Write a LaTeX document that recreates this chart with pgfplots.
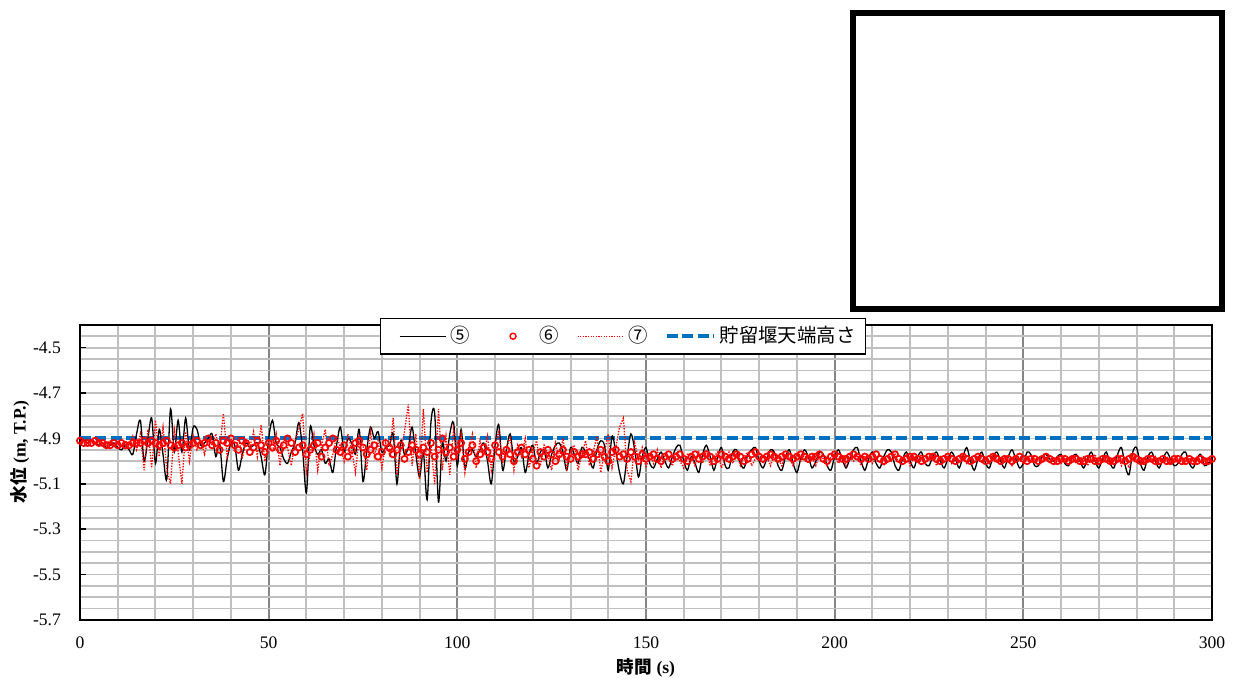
\documentclass[border=0pt]{standalone}
\usepackage{pgfplots}
\pgfplotsset{compat=1.18}
\usepackage{pgfplotstable}
\usepackage{fontspec}
\setmainfont{Liberation Serif}
\newfontfamily\jp{Noto Sans CJK JP}
\definecolor{wlblue}{HTML}{0070C0}
\definecolor{gmaj}{HTML}{858585}
\definecolor{gmin}{HTML}{C0C0C0}

\pgfplotstableread{
t k m d
0 -4.90 -4.91 -4.90
1 -4.91 -4.92 -4.91
2 -4.92 -4.92 -4.92
3 -4.91 -4.92 -4.91
4 -4.92 -4.91 -4.92
5 -4.93 -4.92 -4.91
6 -4.92 -4.92 -4.93
7 -4.94 -4.93 -4.92
8 -4.93 -4.93 -4.91
9 -4.92 -4.92 -4.93
10 -4.94 -4.93 -4.92
11 -4.95 -4.92 -4.94
12 -4.93 -4.93 -4.91
13 -4.95 -4.93 -4.93
14 -4.97 -4.92 -4.89
15 -4.88 -4.92 -4.95
16 -4.82 -4.92 -4.88
17 -5.00 -4.91 -5.04
18 -4.90 -4.92 -4.86
19 -4.81 -4.91 -5.03
20 -5.01 -4.92 -4.82
21 -4.86 -4.93 -4.98
22 -4.97 -4.92 -4.85
23 -5.08 -4.91 -5.04
24 -4.77 -4.93 -5.10
25 -4.96 -4.94 -4.86
26 -4.82 -4.93 -4.96
27 -4.96 -4.92 -5.10
28 -4.81 -4.94 -4.87
29 -4.95 -4.93 -5.00
30 -4.85 -4.92 -4.89
31 -4.86 -4.91 -4.95
32 -4.93 -4.93 -4.91
33 -4.92 -4.92 -4.97
34 -4.90 -4.90 -4.90
35 -4.88 -4.93 -4.93
36 -4.98 -4.92 -4.88
37 -4.92 -4.95 -4.95
38 -5.09 -4.91 -4.79
39 -4.99 -4.92 -4.98
40 -4.92 -4.90 -4.90
41 -4.93 -4.93 -4.96
42 -5.04 -4.95 -4.89
43 -4.97 -4.91 -4.99
44 -4.92 -4.92 -4.91
45 -4.94 -4.96 -4.94
46 -4.93 -4.94 -4.87
47 -4.92 -4.91 -4.98
48 -4.98 -4.93 -4.84
49 -5.06 -4.96 -5.00
50 -4.90 -4.92 -4.92
51 -4.82 -4.94 -4.96
52 -4.92 -4.91 -4.88
53 -4.94 -4.95 -5.02
54 -4.99 -4.93 -4.90
55 -5.01 -4.90 -4.94
56 -4.96 -4.92 -5.02
57 -4.92 -4.96 -4.91
58 -4.83 -4.94 -4.86
59 -4.95 -4.93 -4.79
60 -5.14 -4.97 -5.05
61 -4.85 -4.95 -4.97
62 -4.93 -4.93 -4.88
63 -4.97 -4.92 -5.04
64 -4.95 -4.98 -4.93
65 -5.01 -4.94 -4.86
66 -4.99 -4.92 -5.02
67 -5.05 -4.90 -4.97
68 -4.93 -4.95 -4.89
69 -4.85 -4.96 -4.94
70 -4.96 -4.93 -5.00
71 -4.90 -4.98 -4.88
72 -4.92 -4.95 -4.95
73 -4.97 -4.92 -5.05
74 -4.86 -4.91 -4.89
75 -5.09 -4.94 -4.93
76 -4.95 -4.97 -5.04
77 -4.85 -4.95 -4.87
78 -4.90 -4.93 -4.98
79 -4.87 -4.98 -4.91
80 -4.96 -4.96 -5.03
81 -4.94 -4.92 -4.92
82 -4.93 -4.94 -4.97
83 -4.88 -4.97 -4.81
84 -5.10 -4.95 -5.06
85 -4.91 -4.93 -4.95
86 -4.97 -4.99 -4.87
87 -4.94 -4.96 -4.75
88 -4.85 -4.93 -5.02
89 -4.97 -4.95 -4.88
90 -5.07 -4.97 -5.08
91 -4.96 -4.94 -4.77
92 -5.17 -4.96 -5.05
93 -4.83 -4.92 -4.93
94 -4.79 -4.98 -5.10
95 -5.18 -4.95 -4.77
96 -4.92 -4.90 -5.04
97 -5.00 -4.96 -4.89
98 -4.88 -4.94 -5.06
99 -4.83 -4.98 -4.86
100 -5.02 -4.95 -4.98
101 -4.86 -4.92 -4.88
102 -5.03 -4.99 -5.05
103 -4.96 -4.96 -4.94
104 -4.95 -4.93 -4.88
105 -4.98 -5.00 -5.03
106 -4.95 -4.97 -4.91
107 -4.92 -4.94 -4.97
108 -5.00 -4.96 -4.89
109 -5.10 -4.99 -5.04
110 -4.93 -4.93 -4.92
111 -4.84 -4.96 -4.87
112 -5.04 -4.98 -5.01
113 -4.95 -4.95 -4.95
114 -4.88 -4.97 -4.89
115 -5.00 -5.00 -5.04
116 -4.98 -4.96 -4.93
117 -4.94 -4.94 -4.98
118 -5.05 -4.97 -4.90
119 -4.97 -4.95 -5.03
120 -4.93 -4.99 -4.96
121 -5.01 -5.02 -4.91
122 -4.96 -4.96 -5.02
123 -4.95 -4.98 -4.93
124 -5.03 -4.95 -4.97
125 -4.97 -4.97 -5.04
126 -4.93 -5.00 -4.92
127 -4.92 -4.97 -4.99
128 -4.96 -4.95 -4.90
129 -5.04 -4.98 -5.03
130 -4.94 -4.99 -4.95
131 -4.97 -4.96 -4.93
132 -5.01 -4.98 -5.04
133 -4.94 -4.97 -4.97
134 -4.96 -4.97 -4.91
135 -4.99 -4.96 -5.02
136 -5.03 -4.99 -4.96
137 -4.95 -4.97 -4.89
138 -4.91 -4.95 -5.05
139 -4.93 -4.98 -4.96
140 -5.04 -5.00 -4.88
141 -4.89 -4.96 -5.03
142 -4.96 -4.95 -4.94
143 -5.05 -4.98 -4.85
144 -5.10 -4.97 -4.81
145 -4.98 -4.99 -5.04
146 -4.88 -4.96 -5.09
147 -4.95 -4.98 -4.92
148 -5.07 -5.00 -4.99
149 -4.98 -4.97 -4.94
150 -4.94 -4.99 -5.03
151 -5.01 -4.98 -4.97
152 -5.03 -4.97 -5.01
153 -4.99 -4.99 -4.95
154 -4.96 -5.00 -5.03
155 -5.00 -4.98 -4.97
156 -5.03 -4.97 -4.99
157 -4.98 -4.99 -5.02
158 -4.94 -4.98 -4.96
159 -4.93 -4.97 -5.00
160 -5.00 -4.99 -5.03
161 -5.04 -5.00 -4.97
162 -4.98 -4.98 -4.98
163 -5.01 -4.97 -5.02
164 -5.05 -4.99 -4.96
165 -4.97 -4.98 -5.01
166 -4.93 -4.97 -4.95
167 -4.98 -4.98 -5.02
168 -5.04 -5.00 -4.98
169 -4.98 -4.99 -4.96
170 -4.94 -4.97 -5.03
171 -5.02 -4.98 -4.99
172 -5.03 -4.99 -4.96
173 -4.96 -4.98 -5.01
174 -4.95 -4.97 -4.97
175 -5.01 -4.98 -5.02
176 -5.03 -5.00 -4.98
177 -4.97 -4.99 -4.96
178 -4.95 -4.97 -5.02
179 -4.94 -4.96 -4.99
180 -5.00 -4.98 -4.96
181 -5.03 -4.99 -5.01
182 -4.99 -4.98 -4.98
183 -4.95 -4.97 -5.02
184 -4.96 -4.98 -4.97
185 -5.02 -4.99 -4.99
186 -5.04 -4.98 -5.02
187 -4.98 -4.97 -4.97
188 -4.95 -4.98 -4.99
189 -5.01 -4.99 -5.02
190 -5.05 -4.98 -4.97
191 -4.99 -4.97 -5.00
192 -4.95 -4.98 -4.97
193 -4.98 -4.99 -5.01
194 -5.03 -4.98 -4.98
195 -5.00 -4.98 -5.02
196 -4.96 -4.97 -4.97
197 -4.97 -4.99 -4.99
198 -5.02 -5.00 -5.02
199 -5.04 -4.98 -4.98
200 -4.98 -4.97 -4.97
201 -4.95 -4.98 -5.01
202 -4.99 -4.99 -4.98
203 -5.03 -4.99 -5.02
204 -4.99 -4.98 -4.97
205 -4.95 -4.97 -5.00
206 -4.94 -4.98 -4.98
207 -5.00 -4.99 -5.02
208 -5.04 -4.98 -4.98
209 -4.99 -4.99 -4.97
210 -4.96 -4.98 -5.01
211 -5.01 -4.97 -4.99
212 -5.03 -4.99 -4.97
213 -4.98 -5.00 -5.02
214 -4.95 -4.99 -4.98
215 -4.96 -4.98 -5.00
216 -5.02 -4.97 -4.97
217 -5.04 -4.99 -5.01
218 -4.99 -5.00 -4.99
219 -4.96 -4.99 -4.97
220 -5.00 -4.98 -5.02
221 -5.03 -4.98 -4.98
222 -4.98 -4.99 -5.00
223 -4.96 -5.00 -4.97
224 -5.01 -4.99 -5.01
225 -5.02 -4.98 -4.99
226 -4.98 -4.98 -4.97
227 -4.96 -4.99 -5.02
228 -5.00 -5.00 -4.98
229 -5.03 -4.99 -5.00
230 -4.99 -4.98 -4.98
231 -4.96 -4.99 -5.01
232 -4.99 -5.00 -4.98
233 -5.03 -4.99 -5.00
234 -4.98 -4.98 -4.97
235 -4.94 -4.99 -5.01
236 -5.00 -5.00 -4.99
237 -5.04 -4.99 -5.01
238 -4.99 -4.98 -4.98
239 -4.96 -4.99 -5.00
240 -5.01 -5.00 -4.98
241 -5.03 -4.99 -5.01
242 -4.98 -4.98 -4.97
243 -4.96 -4.99 -5.00
244 -5.00 -5.00 -5.01
245 -5.03 -4.99 -4.98
246 -4.98 -4.99 -5.00
247 -4.95 -5.00 -5.02
248 -4.99 -4.99 -4.98
249 -5.03 -4.98 -4.99
250 -5.01 -4.99 -5.01
251 -4.96 -5.00 -4.98
252 -4.97 -4.99 -5.00
253 -5.02 -4.99 -5.01
254 -5.02 -5.00 -4.98
255 -4.98 -4.99 -5.00
256 -4.97 -4.98 -4.98
257 -4.99 -4.99 -5.01
258 -5.00 -5.00 -4.99
259 -4.98 -5.00 -4.98
260 -4.97 -4.99 -5.01
261 -5.01 -4.99 -4.99
262 -5.02 -5.00 -5.00
263 -4.98 -4.99 -4.98
264 -4.97 -4.99 -5.01
265 -5.00 -5.00 -4.99
266 -5.03 -5.00 -4.98
267 -4.99 -4.99 -5.02
268 -4.96 -4.99 -4.99
269 -5.00 -5.00 -4.97
270 -5.03 -5.00 -5.01
271 -4.99 -4.99 -5.00
272 -4.96 -4.99 -4.98
273 -5.01 -5.00 -5.01
274 -5.03 -5.00 -4.99
275 -4.97 -4.99 -4.97
276 -4.94 -4.99 -5.02
277 -5.02 -5.00 -4.98
278 -5.06 -4.99 -5.03
279 -4.96 -4.98 -4.97
280 -4.94 -4.99 -5.00
281 -5.01 -5.00 -4.98
282 -5.04 -5.00 -5.01
283 -4.98 -4.99 -4.99
284 -4.96 -4.99 -5.00
285 -5.00 -5.00 -4.98
286 -5.03 -5.00 -5.01
287 -4.99 -4.99 -4.99
288 -4.96 -5.00 -4.98
289 -4.99 -5.00 -5.01
290 -5.02 -4.99 -4.99
291 -5.01 -4.99 -5.00
292 -4.97 -5.00 -4.98
293 -4.96 -5.00 -5.01
294 -5.01 -4.99 -4.99
295 -5.03 -5.00 -5.00
296 -4.99 -5.00 -4.98
297 -4.97 -4.99 -5.01
298 -5.02 -5.00 -4.99
299 -5.01 -5.00 -5.00
300 -4.99 -4.99 -4.99
}\wl

\begin{document}
\begin{tikzpicture}
\path[use as bounding box] (-40pt,-32pt) rectangle (579pt,310pt);
\begin{axis}[
  at={(0,0)}, anchor=south west,
  scale only axis,
  width=566pt, height=147.5pt,
  xmin=0, xmax=300, ymin=-5.7, ymax=-4.4,
  xtick={0,50,...,300},
  minor xtick={10,20,30,40,60,70,80,90,110,120,130,140,160,170,180,190,210,220,230,240,260,270,280,290},
  ytick={-5.7,-5.5,-5.3,-5.1,-4.9,-4.7,-4.5},
  minor ytick={-5.65,-5.6,-5.55,-5.45,-5.4,-5.35,-5.25,-5.2,-5.15,-5.05,-5.0,-4.95,-4.85,-4.8,-4.75,-4.65,-4.6,-4.55,-4.45},
  grid=both,
  major x grid style={gmaj, line width=0.9pt},
  minor x grid style={gmin, line width=1pt},
  major y grid style={gmin, line width=0.85pt},
  minor y grid style={gmin, line width=0.85pt},
  axis line style={black, line width=1pt},
  tick align=inside,
  xtick style={draw=none},
  minor tick style={draw=none},
  ytick style={black, line width=0.8pt},
  major tick length=3pt,
  ytick pos=left,
  tick label style={font=\fontsize{8.8}{10}\selectfont},
  /pgf/number format/assume math mode=true,
  yticklabel style={/pgf/number format/fixed, /pgf/number format/precision=1, /pgf/number format/fixed zerofill, xshift=-6pt},
  xticklabel style={yshift=-5pt},
  every axis x label/.style={at={(axis description cs:0.5,-0.163)}, anchor=center},
  every axis y label/.style={at={(axis description cs:-0.053,0.57)}, rotate=90, anchor=center},
  xlabel={\fontsize{8.8}{10}\selectfont\bfseries{\jp 時間} (s)},
  ylabel={\fontsize{8.8}{10}\selectfont\bfseries{\jp 水位} (m, T.P.)},
  legend columns=4,
  legend cell align=left,
  legend image code/.code={\path[draw=none] (0cm,0cm) -- (0.222cm,0cm); \draw[mark repeat=2,mark phase=2,#1] plot coordinates {(0.222cm,0cm) (0.632cm,0cm) (1.042cm,0cm)};},
  legend style={at={(axis description cs:0.265,1.024)}, anchor=north west,
    draw=black, line width=0.6pt, fill=white,
    font=\jp\fontsize{9.7}{11}\selectfont,
    inner xsep=3.2pt, inner ysep=2pt,
    /tikz/every even column/.append style={column sep=1pt}},
]
\addplot[wlblue, line width=2pt, dash pattern=on 5.5pt off 2.2pt, forget plot] coordinates {(0,-4.9) (300,-4.9)};
\addplot[black, line width=0.65pt, smooth, tension=0.5, forget plot] table[x=t, y=k] {\wl};
\addplot[red, line width=0.65pt, dash pattern=on 0.7pt off 0.7pt, forget plot] table[x=t, y=d] {\wl};
\addplot[only marks, mark=o, mark size=1.55pt, mark options={red, line width=0.85pt}, forget plot] table[x=t, y=m] {\wl};

\addlegendimage{black, line width=0.65pt}
\addlegendentry{⑤}
\addlegendimage{legend image code/.code={\path[draw=none] (0cm,0cm) -- (1.042cm,0cm); \node[circle, draw=red, fill=none, line width=0.7pt, inner sep=0pt, minimum size=3pt] at (0.58cm,0cm) {};}}
\addlegendentry{⑥}
\addlegendimage{red, line width=0.6pt, dash pattern=on 0.6pt off 0.7pt}
\addlegendentry{⑦}
\addlegendimage{wlblue, line width=2pt, dash pattern=on 5.5pt off 2.2pt}
\addlegendentry{貯留堰天端高さ}
\end{axis}
\draw[black, line width=3pt] (386.5pt,155.5pt) rectangle (571pt,303.5pt);
\end{tikzpicture}
\end{document}
